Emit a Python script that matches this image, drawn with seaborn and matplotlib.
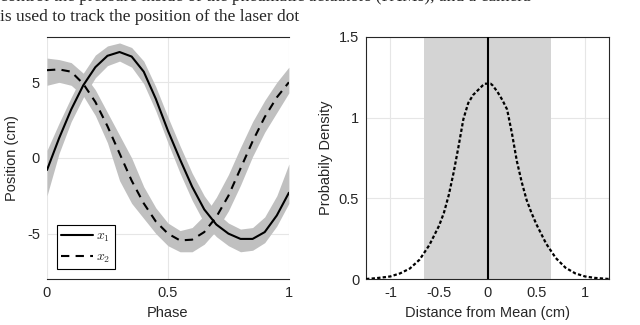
import numpy as np
import pandas as pd
import matplotlib
matplotlib.use("Agg")
import matplotlib.pyplot as plt
import seaborn as sns

# left panel: mean trajectories and the grey spread of all trials
phase = [0.00, 0.05, 0.10, 0.15, 0.20, 0.25, 0.30, 0.35, 0.40, 0.45, 0.50,
         0.55, 0.60, 0.65, 0.70, 0.75, 0.80, 0.85, 0.90, 0.95, 1.00]
x1_mean = [-0.8, 1.3, 3.2, 4.8, 6.0, 6.75, 7.0, 6.7, 5.7, 3.9, 1.8,
           -0.1, -1.9, -3.4, -4.4, -5.0, -5.35, -5.35, -4.9, -3.8, -2.3]
x2_mean = [5.8, 5.85, 5.7, 4.9, 3.7, 2.1, 0.3, -1.5, -3.0, -4.2, -5.0,
           -5.45, -5.4, -4.9, -3.9, -2.5, -0.7, 1.1, 2.7, 4.0, 5.0]
x1_hi = [0.5, 2.3, 4.0, 5.6, 6.8, 7.4, 7.6, 7.3, 6.4, 4.7, 2.7,
         0.8, -1.0, -2.5, -3.6, -4.3, -4.7, -4.6, -3.9, -2.5, -0.4]
x1_lo = [-2.5, 0.3, 2.4, 4.0, 5.3, 6.1, 6.4, 6.0, 4.9, 3.1, 1.0,
         -1.0, -2.8, -4.3, -5.2, -5.8, -6.2, -6.1, -5.6, -4.5, -3.0]
x2_hi = [6.6, 6.5, 6.3, 5.6, 4.5, 3.0, 1.5, 0.0, -1.9, -3.3, -4.3,
         -4.8, -4.6, -3.8, -2.6, -1.1, 0.7, 2.4, 3.8, 5.0, 6.0]
x2_lo = [4.8, 5.0, 4.8, 4.1, 2.8, 1.0, -1.5, -3.0, -4.0, -5.0, -5.8,
         -6.2, -6.2, -5.7, -4.8, -3.5, -1.8, 0.1, 1.7, 3.0, 4.3]

# right panel: error density
dist = [-1.25, -1.15, -1.05, -1.0, -0.9, -0.8, -0.7, -0.6, -0.5, -0.45,
        -0.4, -0.35, -0.3, -0.25, -0.2, -0.15, -0.1, -0.05, -0.03, 0.03,
        0.05, 0.1, 0.15, 0.2, 0.25, 0.3, 0.35, 0.4, 0.45, 0.5,
        0.55, 0.6, 0.7, 0.8, 0.9, 1.0, 1.1, 1.25]
density = [0.0, 0.005, 0.012, 0.016, 0.035, 0.065, 0.12, 0.21, 0.33, 0.41,
           0.52, 0.66, 0.82, 0.99, 1.09, 1.14, 1.17, 1.2, 1.21, 1.21,
           1.2, 1.16, 1.11, 1.05, 0.9, 0.73, 0.6, 0.49, 0.41, 0.34,
           0.28, 0.22, 0.13, 0.07, 0.035, 0.016, 0.007, 0.0]
band = (-0.65, 0.65)

sns.set_theme(style="whitegrid")
plt.rcParams['font.family'] = ['Liberation Sans', 'DejaVu Sans']
plt.rcParams['mathtext.fontset'] = 'cm'

fig = plt.figure(figsize=(6.4, 3.25), dpi=100)
ax1 = fig.add_axes([0.0734, 0.1415, 0.378, 0.745])
ax2 = fig.add_axes([0.572, 0.1415, 0.38, 0.745])

grid_kw = dict(color='#e6e6e6', linewidth=0.8)
tick_size = 10.5

# --- left
ax1.grid(True, **grid_kw)
ax1.fill_between(phase, x1_lo, x1_hi, color='#c0c0c0', linewidth=0)
ax1.fill_between(phase, x2_lo, x2_hi, color='#c0c0c0', linewidth=0)
df = pd.DataFrame({'phase': phase, 'x1': x1_mean, 'x2': x2_mean})
sns.lineplot(data=df, x='phase', y='x1', ax=ax1, color='black', lw=1.5, label='$x_1$')
sns.lineplot(data=df, x='phase', y='x2', ax=ax1, color='black', lw=1.5,
             linestyle=(0, (4, 3)), label='$x_2$')
ax1.set_xlim(0, 1)
ax1.set_ylim(-8, 8)
ax1.set_xticks([0, 0.5, 1])
ax1.set_xticklabels(['0', '0.5', '1'])
ax1.set_yticks([-5, 0, 5])
ax1.set_yticklabels(['-5', '0', '5'])
ax1.set_xlabel('Phase', fontsize=tick_size, color='#262626', labelpad=4)
ax1.set_ylabel('Position (cm)', fontsize=tick_size, color='#262626', labelpad=6)
for s in ['left', 'right']:
    ax1.spines[s].set_visible(False)
for s in ['top', 'bottom']:
    ax1.spines[s].set_color('#262626')
    ax1.spines[s].set_linewidth(0.8)
leg = ax1.legend(loc='lower left', bbox_to_anchor=(0.04, 0.04), borderaxespad=0,
                 fontsize=10, frameon=True, fancybox=False, handlelength=2.3,
                 borderpad=0.3, labelspacing=0.4, handletextpad=0.25)
leg.get_frame().set_edgecolor('black')
leg.get_frame().set_linewidth(0.8)
leg.get_frame().set_alpha(1)

# --- right
ax2.grid(True, **grid_kw)
ax2.axvspan(band[0], band[1], color='#d4d4d4', linewidth=0, zorder=1)
ax2.axvline(0, color='black', lw=1.5, zorder=3)
dd = pd.DataFrame({'dist': dist, 'density': density})
sns.lineplot(data=dd, x='dist', y='density', ax=ax2, color='black', lw=1.6,
             linestyle=(0, (1.5, 1)), zorder=4)
ax2.set_xlim(-1.25, 1.25)
ax2.set_ylim(0, 1.5)
ax2.set_xticks([-1, -0.5, 0, 0.5, 1])
ax2.set_xticklabels(['-1', '-0.5', '0', '0.5', '1'])
ax2.set_yticks([0, 0.5, 1, 1.5])
ax2.set_yticklabels(['0', '0.5', '1', '1.5'])
ax2.set_xlabel('Distance from Mean (cm)', fontsize=tick_size, color='#262626', labelpad=4)
ax2.set_ylabel('Probabily Density', fontsize=tick_size, color='#262626', labelpad=4)
for s in ax2.spines.values():
    s.set_visible(True)
    s.set_color('#262626')
    s.set_linewidth(0.8)

for ax in (ax1, ax2):
    ax.tick_params(labelsize=tick_size, colors='#262626', length=0, pad=5)
    ax.set_axisbelow(True)

# bits of the paper text above the figure (first line is cut by the top edge)
fig.text(0.0, 0.996, 'control the pressure inside of the pneumatic actuators (PAMs), and a camera',
         family=['Liberation Serif', 'DejaVu Serif'], fontsize=12.5, va='baseline')
fig.text(0.0, 0.936, 'is used to track the position of the laser dot',
         family=['Liberation Serif', 'DejaVu Serif'], fontsize=12.5, va='baseline')

fig.savefig('out.png', dpi=100)
